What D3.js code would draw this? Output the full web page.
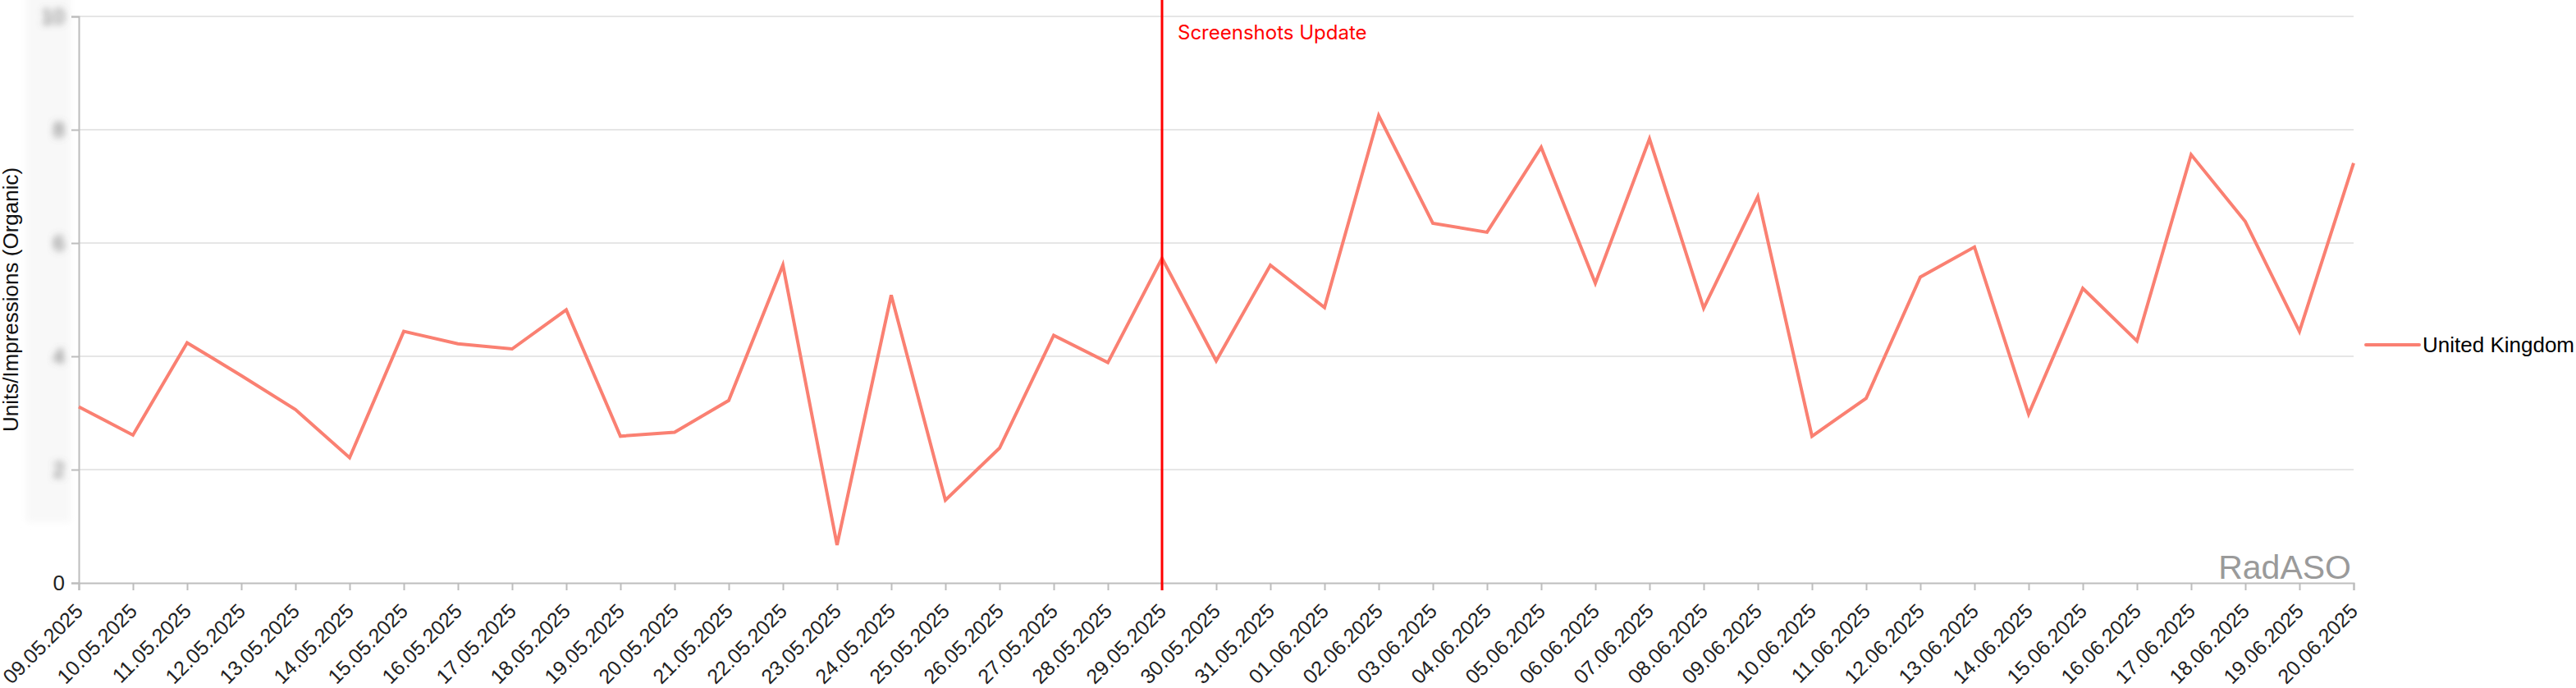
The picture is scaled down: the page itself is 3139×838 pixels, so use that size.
<!DOCTYPE html>
<html>
<head>
<meta charset="utf-8">
<script src="https://cdn.jsdelivr.net/npm/d3@7"></script>
<style>
  html, body { margin: 0; padding: 0; background: #fff; }
  svg { display: block; }
</style>
</head>
<body>
<svg id="chart" width="3139" height="838"></svg>
<script>
const dates = ["09.05.2025","10.05.2025","11.05.2025","12.05.2025","13.05.2025","14.05.2025","15.05.2025","16.05.2025","17.05.2025","18.05.2025","19.05.2025","20.05.2025","21.05.2025","22.05.2025","23.05.2025","24.05.2025","25.05.2025","26.05.2025","27.05.2025","28.05.2025","29.05.2025","30.05.2025","31.05.2025","01.06.2025","02.06.2025","03.06.2025","04.06.2025","05.06.2025","06.06.2025","07.06.2025","08.06.2025","09.06.2025","10.06.2025","11.06.2025","12.06.2025","13.06.2025","14.06.2025","15.06.2025","16.06.2025","17.06.2025","18.06.2025","19.06.2025","20.06.2025"];
const seriesName = "United Kingdom";
const ukValues = [3.11,2.61,4.24,3.66,3.06,2.21,4.44,4.22,4.13,4.82,2.59,2.66,3.22,5.61,0.67,5.08,1.46,2.38,4.37,3.89,5.73,3.92,5.61,4.86,8.25,6.35,6.19,7.69,5.29,7.84,4.85,6.82,2.59,3.26,5.40,5.93,2.98,5.20,4.27,7.56,6.38,4.44,7.41];
const yTicks = [0,2,4,6,8,10];
const markerDate = "29.05.2025";
const markerLabel = "Screenshots Update";
const yAxisTitle = "Units/Impressions (Organic)";
const watermark = "RadASO";

const svg = d3.select("#chart");
const W = 3139, H = 838;
const mLeft = 96, mRight = 2868, mTop = 20, mBottom = 710;

svg.append("rect").attr("width", W).attr("height", H).attr("fill", "#fff");

const defs = svg.append("defs");
defs.append("filter").attr("id", "blur").attr("x", "-50%").attr("y", "-50%").attr("width", "200%").attr("height", "200%")
  .append("feGaussianBlur").attr("stdDeviation", 4.5);
defs.append("filter").attr("id", "blurbg").attr("x", "-20%").attr("y", "-20%").attr("width", "140%").attr("height", "140%")
  .append("feGaussianBlur").attr("stdDeviation", 4);

const x = d3.scalePoint().domain(dates).range([mLeft, mRight]);
const y = d3.scaleLinear().domain([0, 10]).range([mBottom, mTop]);

// grid
svg.append("g").selectAll("line").data(yTicks.filter(d => d > 0)).join("line")
  .attr("x1", mLeft).attr("x2", mRight)
  .attr("y1", d => y(d)).attr("y2", d => y(d))
  .attr("stroke", "#e6e6e6").attr("stroke-width", 2);

// blurred y labels backdrop
svg.append("rect").attr("x", 32).attr("y", -10).attr("width", 54).attr("height", 646)
  .attr("fill", "#f8f8f8").attr("filter", "url(#blurbg)");

// y axis
const yAxis = d3.axisLeft(y).tickValues(yTicks).tickSize(9).tickPadding(8).tickFormat(d3.format("d"));
const gy = svg.append("g").attr("transform", `translate(${mLeft},0)`).call(yAxis);
gy.select(".domain").attr("stroke", "#bdbdbd").attr("stroke-width", 2);
gy.selectAll(".tick line").attr("stroke", "#bdbdbd").attr("stroke-width", 2);
gy.selectAll(".tick text").attr("font-family", "'Liberation Sans', Arial, sans-serif").attr("font-size", 26)
  .attr("filter", d => d === 0 ? null : "url(#blur)")
  .attr("fill", d => d === 0 ? "#222" : "#6a6a6a");

// x axis
const xAxis = d3.axisBottom(x).tickSize(9).tickPadding(0);
const gx = svg.append("g").attr("transform", `translate(0,${mBottom})`).call(xAxis);
gx.select(".domain").attr("stroke", "#bdbdbd").attr("stroke-width", 2);
gx.selectAll(".tick line").attr("stroke", "#bdbdbd").attr("stroke-width", 2);
gx.selectAll(".tick text")
  .attr("font-family", "'Liberation Sans', Arial, sans-serif").attr("font-size", 25).attr("fill", "#222")
  .attr("text-anchor", "end").attr("dy", null).attr("y", 0)
  .attr("transform", "translate(6,36) rotate(-45)");

// y title
svg.append("text").attr("transform", `translate(22,${(mTop + mBottom) / 2}) rotate(-90)`)
  .attr("text-anchor", "middle").attr("font-family", "'Liberation Sans', Arial, sans-serif")
  .attr("font-size", 26).attr("fill", "#111").text(yAxisTitle);

// line
const line = d3.line().x((d, i) => x(dates[i])).y(d => y(d));
svg.append("path").datum(ukValues).attr("d", line)
  .attr("fill", "none").attr("stroke", "#fa8072").attr("stroke-width", 4).attr("stroke-linejoin", "miter");

// marker
const mx = x(markerDate);
svg.append("line").attr("x1", mx).attr("x2", mx).attr("y1", 0).attr("y2", mBottom + 9)
  .attr("stroke", "#ff0000").attr("stroke-width", 3);
svg.append("text").attr("x", mx + 19).attr("y", 48)
  .attr("font-family", "Inter, Roboto, sans-serif").attr("font-size", 24).attr("fill", "#ff0000").text(markerLabel);

// watermark
svg.append("text").attr("x", mRight - 3).attr("y", 705).attr("text-anchor", "end")
  .attr("font-family", "'Liberation Sans', Arial, sans-serif").attr("font-size", 41).attr("fill", "#9a9a9a").text(watermark);

// legend
const lg = svg.append("g").attr("transform", "translate(2883,420)");
lg.append("line").attr("x1", 0).attr("x2", 65).attr("y1", 0).attr("y2", 0)
  .attr("stroke", "#fa8072").attr("stroke-width", 4).attr("stroke-linecap", "round");
lg.append("text").attr("x", 69).attr("y", 9)
  .attr("font-family", "'Liberation Sans', Arial, sans-serif").attr("font-size", 26).attr("fill", "#000").text(seriesName);
</script>
</body>
</html>
